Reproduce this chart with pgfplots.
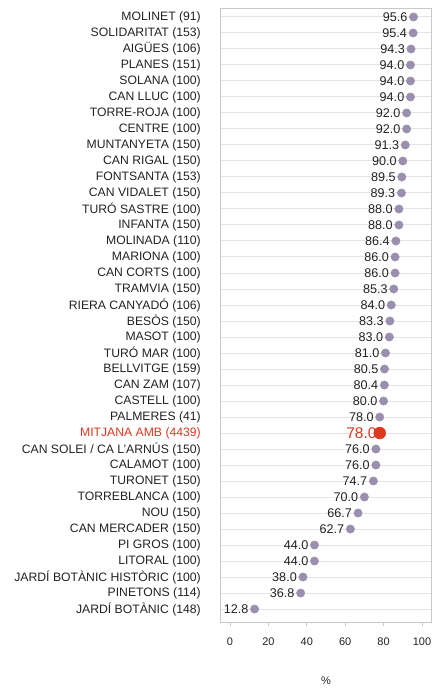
\documentclass[border=0pt]{standalone}
\usepackage{pgfplots}
\pgfplotsset{compat=1.18}
\usepackage{fontspec}
\setmainfont{Liberation Sans}
\definecolor{dotc}{RGB}{155,143,175}
\definecolor{redc}{RGB}{222,56,30}
\definecolor{gridc}{RGB}{228,228,228}
\definecolor{boxc}{RGB}{200,200,200}
\definecolor{txtc}{RGB}{34,34,34}
\newcommand{\lbl}{\fontsize{12.2}{14}\selectfont}
\newcommand{\vlbl}{\fontsize{12.6}{14}\selectfont}
\newcommand{\tlbl}{\fontsize{11}{13}\selectfont}
\begin{document}
\begin{tikzpicture}[x=1pt,y=1pt]
\useasboundingbox (0,0) rectangle (435,689);
\begin{axis}[
  at={(221pt,67pt)}, anchor=south west,
  scale only axis, width=210pt, height=614pt,
  xmin=-4.7, xmax=104.7, ymin=-0.56, ymax=37.81, y dir=reverse,
  clip=false,
  axis line style={boxc, line width=1pt},
  xtick={0,20,40,60,80,100}, xtick pos=bottom, tick align=outside,
  x tick style={boxc, line width=0.8pt}, major tick length=4pt,
  xticklabel style={font=\tlbl, text=txtc, inner sep=0pt, yshift=-12pt},
  /pgf/number format/assume math mode=true,
  ytick={0,...,37}, y tick style={draw=none},
  yticklabel style={font=\lbl, text=txtc, anchor=east, inner sep=0pt, xshift=-16pt},
  yticklabels={MOLINET (91),SOLIDARITAT (153),AIGÜES (106),PLANES (151),SOLANA (100),CAN LLUC (100),TORRE-ROJA (100),CENTRE (100),MUNTANYETA (150),CAN RIGAL (150),FONTSANTA (153),CAN VIDALET (150),TURÓ SASTRE (100),INFANTA (150),MOLINADA (110),MARIONA (100),CAN CORTS (100),TRAMVIA (150),RIERA CANYADÓ (106),BESÒS (150),MASOT (100),TURÓ MAR (100),BELLVITGE (159),CAN ZAM (107),CASTELL (100),PALMERES (41),\textcolor{redc}{MITJANA AMB (4439)},CAN SOLEI / CA L'ARNÚS (150),CALAMOT (100),TURONET (150),TORREBLANCA (100),NOU (150),CAN MERCADER (150),PI GROS (100),LITORAL (100),JARDÍ BOTÀNIC HISTÒRIC (100),PINETONS (114),JARDÍ BOTÀNIC (148)},
  ymajorgrids, major grid style={gridc, line width=1pt},
  xlabel={\%}, xlabel style={font=\tlbl, text=txtc, at={(axis description cs:0.5,0)}, anchor=center, yshift=-59pt},
  point meta=x,
  nodes near coords={\pgfmathprintnumber[fixed, fixed zerofill, precision=1]{\pgfplotspointmeta}},
]
\addplot[only marks, mark=*, mark size=4.2pt, mark options={fill=dotc, draw=dotc},
  nodes near coords style={font=\vlbl, text=txtc, anchor=east, inner sep=0pt, xshift=-6pt}]
coordinates {
(95.6,0) (95.4,1) (94.3,2) (94.0,3) (94.0,4) (94.0,5) (92.0,6) (92.0,7) (91.3,8) (90.0,9)
(89.5,10) (89.3,11) (88.0,12) (88.0,13) (86.4,14) (86.0,15) (86.0,16) (85.3,17) (84.0,18) (83.3,19)
(83.0,20) (81.0,21) (80.5,22) (80.4,23) (80.0,24) (78.0,25)
(76.0,27) (76.0,28) (74.7,29) (70.0,30) (66.7,31) (62.7,32) (44.0,33) (44.0,34) (38.0,35) (36.8,36) (12.8,37)
};
\addplot[only marks, mark=*, mark size=6pt, mark options={fill=redc, draw=redc},
  nodes near coords style={font=\fontsize{15.5}{17}\selectfont, text=redc, anchor=east, inner sep=0pt, xshift=-3pt}]
coordinates {(78.0,26)};
\end{axis}
\end{tikzpicture}
\end{document}
